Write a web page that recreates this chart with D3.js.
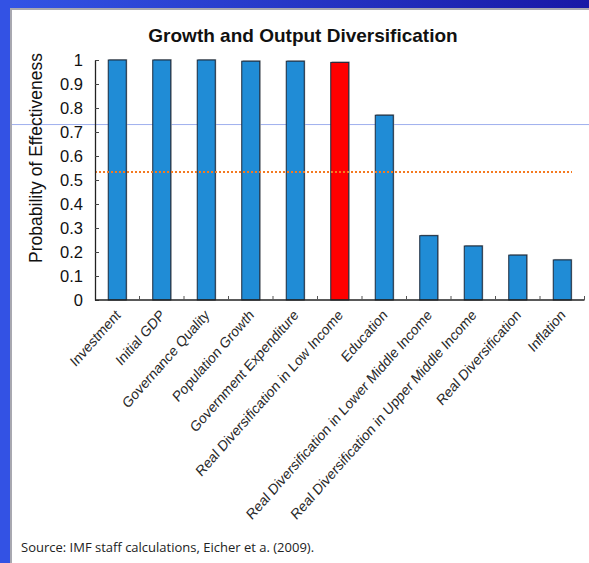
<!DOCTYPE html>
<html><head><meta charset="utf-8">
<script src="https://cdn.jsdelivr.net/npm/d3@7"></script>
<style>body{margin:0;padding:0;overflow:hidden;background:#fff}</style>
</head><body>
<svg id="c" width="589" height="563"></svg>
<script>
const categories = ["Investment","Initial GDP","Governance Quality","Population Growth","Government Expenditure","Real Diversification in Low Income","Education","Real Diversification in Lower Middle Income","Real Diversification in Upper Middle Income","Real Diversification","Inflation"];
const values = [1.0, 1.0, 1.0, 0.995, 0.995, 0.99, 0.77, 0.268, 0.225, 0.187, 0.167];
const highlighted = ["Real Diversification in Low Income"];
const yTicks = [0,0.1,0.2,0.3,0.4,0.5,0.6,0.7,0.8,0.9,1];
const threshold = 0.533;
const slideRule = 0.731;
const title = "Growth and Output Diversification";
const yLabel = "Probability of Effectiveness";
const source = "Source: IMF staff calculations, Eicher et a. (2009).";

const svg = d3.select("#c");
const defs = svg.append("defs");
const g1 = defs.append("linearGradient").attr("id","topg").attr("x1","0").attr("x2","1");
g1.append("stop").attr("offset","0").attr("stop-color","#3355e6");
g1.append("stop").attr("offset","1").attr("stop-color","#1818a6");

// slide background
svg.append("rect").attr("x",0).attr("y",0).attr("width",589).attr("height",563).attr("fill","#fff");
svg.append("rect").attr("x",0).attr("y",0).attr("width",589).attr("height",8).attr("fill","url(#topg)");
svg.append("rect").attr("x",0).attr("y",0).attr("width",10).attr("height",563).attr("fill","#3352e4");
svg.append("rect").attr("x",10).attr("y",8).attr("width",579).attr("height",2).attr("fill","#a8a8b0");
svg.append("rect").attr("x",10).attr("y",8).attr("width",2).attr("height",555).attr("fill","#a8a8b0");

const x = d3.scaleBand().domain(categories).range([95,584.5]).paddingInner(0).paddingOuter(0);
const y = d3.scaleLinear().domain([0,1]).range([300,60]);

// slide rule line
svg.append("line").attr("x1",12).attr("x2",589).attr("y1",y(slideRule)).attr("y2",y(slideRule))
  .attr("stroke","#9fb0ee").attr("stroke-width",1);

// title
svg.append("text").attr("x",303).attr("y",42).attr("text-anchor","middle")
  .attr("font-family","Liberation Sans, Arial, sans-serif").attr("font-weight","bold").attr("font-size",19)
  .attr("fill","#111").text(title);

// bars
const bw = 18;
svg.selectAll("rect.shadow").data(categories).join("rect").attr("class","shadow")
  .attr("x",d=>x(d)+x.bandwidth()/2-bw/2+1).attr("y",(d,i)=>y(values[i])-1)
  .attr("width",bw).attr("height",(d,i)=>y(0)-y(values[i])+1).attr("fill","#b0b0b0");
svg.selectAll("rect.bar").data(categories).join("rect").attr("class","bar")
  .attr("x",d=>x(d)+x.bandwidth()/2-bw/2).attr("y",(d,i)=>y(values[i]))
  .attr("width",bw).attr("height",(d,i)=>y(0)-y(values[i]))
  .attr("fill",d=>highlighted.includes(d)?"#ff0000":"#208cd6")
  .attr("stroke","#1b2a3c").attr("stroke-width",1);

// threshold dotted
svg.append("line").attr("x1",95).attr("x2",572).attr("y1",y(threshold)).attr("y2",y(threshold))
  .attr("stroke","#f47a20").attr("stroke-width",2).attr("stroke-dasharray","2,2");

// y axis
const yAxis = d3.axisLeft(y).tickValues(yTicks).tickFormat(d=>d3.format("")(+d.toFixed(1))).tickSizeInner(-4).tickSizeOuter(0).tickPadding(12);
const ya = svg.append("g").attr("transform","translate(95,0)").call(yAxis);
ya.select(".domain").attr("stroke","#222").attr("stroke-width",1.3);
ya.selectAll(".tick line").attr("stroke","#444");
ya.selectAll("text").attr("font-family","Liberation Sans, Arial, sans-serif").attr("font-size",16.5).attr("fill","#111");

// x axis
const xa = svg.append("g").attr("transform","translate(0,300)");
xa.append("line").attr("x1",95).attr("x2",584.5).attr("y1",0).attr("y2",0).attr("stroke","#222").attr("stroke-width",1.5);
xa.selectAll("line.t").data(categories).join("line").attr("class","t")
  .attr("x1",d=>x(d)+x.bandwidth()).attr("x2",d=>x(d)+x.bandwidth()).attr("y1",0).attr("y2",-4).attr("stroke","#555");
xa.selectAll("text").data(categories).join("text")
  .attr("transform",d=>`translate(${x(d)+x.bandwidth()/2+4},${16}) scale(1,1.13) rotate(-45)`)
  .attr("text-anchor","end").attr("font-family","Liberation Sans, Arial, sans-serif").attr("font-size",13.2)
  .attr("fill","#2a2a2a").text(d=>d);

// y label
svg.append("text").attr("transform","translate(42,158) rotate(-90)").attr("text-anchor","middle")
  .attr("font-family","Liberation Sans, Arial, sans-serif").attr("font-size",17.5).attr("fill","#111").text(yLabel);

// source
svg.append("text").attr("x",21).attr("y",552).attr("font-family","Liberation Sans Narrow, Open Sans, sans-serif")
  .attr("font-size",13).attr("fill","#222").text(source);
</script>
</body></html>
